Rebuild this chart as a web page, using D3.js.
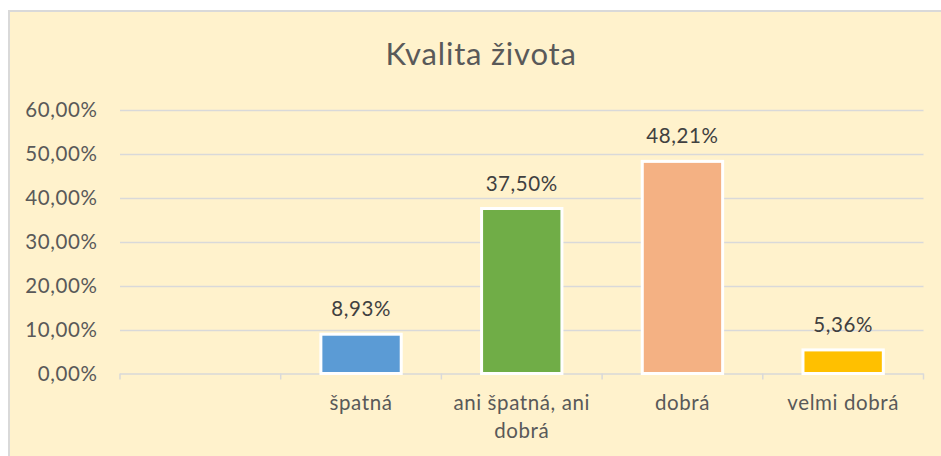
<!DOCTYPE html>
<html><head><meta charset="utf-8">
<script src="https://cdn.jsdelivr.net/npm/d3@7"></script>
<style>html,body{margin:0;padding:0;background:#fff;overflow:hidden}</style>
</head><body>
<svg id="c" width="941" height="456"></svg>
<script>
const title = "Kvalita života";
const categories = ["", "špatná", "ani špatná, ani dobrá", "dobrá", "velmi dobrá"];
const values = [null, 0.0893, 0.375, 0.4821, 0.0536];
const valueLabels = ["", "8,93%", "37,50%", "48,21%", "5,36%"];
const barColors = ["#5B9BD5", "#5B9BD5", "#70AD47", "#F4B183", "#FFC000"];
const yTicks = [0, 0.1, 0.2, 0.3, 0.4, 0.5, 0.6];
const yTickLabels = ["0,00%", "10,00%", "20,00%", "30,00%", "40,00%", "50,00%", "60,00%"];

(function () {
const svg = d3.select("#c");
const font = "Lato, 'Open Sans', sans-serif";
const textColor = "#595959";
const fs = 20.5, ls = 0.6;

svg.append("rect").attr("x", 9).attr("y", 11).attr("width", 960).attr("height", 470)
  .attr("fill", "#FFF2CC").attr("stroke", "#D9D9D9").attr("stroke-width", 2);

const pL = 120, pR = 923.5, pT = 109.5, pB = 373.5;
const x = d3.scaleBand().domain(d3.range(categories.length)).range([pL, pR]).paddingInner(0.5).paddingOuter(0.25);
const xb = d3.scaleBand().domain(d3.range(categories.length)).range([pL, pR]);
const y = d3.scaleLinear().domain([0, 0.6]).range([pB, pT]);

svg.append("text").attr("x", 481).attr("y", 65).attr("text-anchor", "middle")
  .attr("font-family", font).attr("font-size", 31).attr("letter-spacing", 0.8).attr("fill", textColor).text(title);

svg.append("g").selectAll("line").data(yTicks.slice(1)).join("line")
  .attr("x1", pL).attr("x2", pR).attr("y1", d => Math.round(y(d)) + 0.5).attr("y2", d => Math.round(y(d)) + 0.5)
  .attr("stroke", "#D9D9D9").attr("stroke-width", 1.5);

svg.append("g").selectAll("text").data(yTicks).join("text")
  .attr("x", 97.5).attr("y", d => y(d) + 7).attr("text-anchor", "end")
  .attr("font-family", font).attr("font-size", fs).attr("letter-spacing", ls).attr("fill", textColor)
  .text((d, i) => yTickLabels[i]);

svg.append("line").attr("x1", pL).attr("x2", pR).attr("y1", pB + 0.5).attr("y2", pB + 0.5)
  .attr("stroke", "#D9D9D9").attr("stroke-width", 1.5);
const tickPos = d3.range(categories.length).map(i => xb(i)).concat([pR]);
svg.append("g").selectAll("line").data(tickPos).join("line")
  .attr("x1", d => d).attr("x2", d => d).attr("y1", pB).attr("y2", pB + 6)
  .attr("stroke", "#D9D9D9").attr("stroke-width", 1.5);

const bi = d3.range(categories.length).filter(i => values[i] != null);
svg.append("g").selectAll("rect").data(bi).join("rect")
  .attr("x", i => x(i)).attr("width", x.bandwidth())
  .attr("y", i => y(values[i])).attr("height", i => pB - y(values[i]))
  .attr("fill", i => barColors[i]).attr("stroke", "#fff").attr("stroke-width", 3);

svg.append("g").selectAll("text").data(bi).join("text")
  .attr("x", i => x(i) + x.bandwidth() / 2).attr("y", i => y(values[i]) - 18)
  .attr("text-anchor", "middle").attr("font-family", font).attr("font-size", fs).attr("letter-spacing", ls).attr("fill", "#404040")
  .text(i => valueLabels[i]);

const catG = svg.append("g");
categories.forEach((c, i) => {
  if (!c) return;
  const cx = xb(i) + xb.bandwidth() / 2;
  const lines = c === "ani špatná, ani dobrá" ? ["ani špatná, ani", "dobrá"] : [c];
  lines.forEach((l, k) => {
    catG.append("text").attr("x", cx).attr("y", 410 + k * 28).attr("text-anchor", "middle")
      .attr("font-family", font).attr("font-size", fs).attr("letter-spacing", ls).attr("fill", textColor).text(l);
  });
});
})();
</script>
</body></html>
